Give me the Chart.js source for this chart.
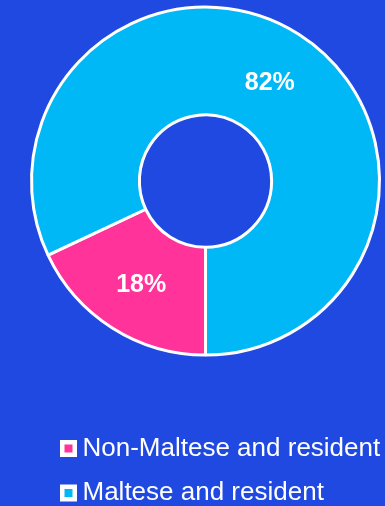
<!DOCTYPE html>
<html>
<head>
<meta charset="utf-8">
<script src="https://cdn.jsdelivr.net/npm/chart.js@4/dist/chart.umd.min.js"></script>
<style>
  html, body { margin: 0; padding: 0; background: #1f49e0; }
  #wrap { width: 385px; height: 506px; position: relative; }
</style>
</head>
<body>
<div id="wrap"><canvas id="c"></canvas></div>
<script>
const categories = ["Non-Maltese and resident", "Maltese and resident"];
const shares = [18, 82];
const sliceColors = ["#ff3399", "#00b8f5"];

const sliceLabels = {
  id: 'sliceLabels',
  afterDatasetsDraw(chart) {
    const ctx = chart.ctx;
    const meta = chart.getDatasetMeta(0);
    ctx.save();
    ctx.fillStyle = '#ffffff';
    ctx.font = 'bold 25px "Liberation Sans", Arial, sans-serif';
    ctx.textAlign = 'center';
    ctx.textBaseline = 'middle';
    meta.data.forEach((arc, i) => {
      const p = arc.tooltipPosition();
      ctx.fillText(shares[i] + '%', p.x, p.y + 3);
    });
    ctx.restore();
  }
};

const legendPlace = {
  id: 'legendPlace',
  afterLayout(chart) {
    const lg = chart.legend;
    if (!lg) return;
    const dx = 49 - lg.left;
    const dy = 417 - lg.top;
    lg.left += dx; lg.right += dx;
    lg.top += dy; lg.bottom += dy;
  }
};

new Chart(document.getElementById('c'), {
  type: 'doughnut',
  data: {
    labels: categories,
    datasets: [{
      data: shares,
      backgroundColor: sliceColors,
      borderColor: '#ffffff',
      borderWidth: 3,
      hoverOffset: 0
    }]
  },
  options: {
    responsive: true,
    maintainAspectRatio: false,
    animation: false,
    rotation: 180,
    cutout: '38%',
    layout: { padding: { left: 29.5, right: 3.5, top: 5.6, bottom: 50.4 } },
    plugins: {
      tooltip: { enabled: false },
      legend: {
        position: 'bottom',
        align: 'start',
        labels: {
          color: '#ffffff',
          font: { family: '"Liberation Sans", Arial, sans-serif', size: 26 },
          usePointStyle: true,
          pointStyle: 'rect',
          boxWidth: 2,
          boxHeight: 12.5,
          padding: 18.5,
          generateLabels(chart) {
            const items = Chart.overrides.doughnut.plugins.legend.labels.generateLabels(chart);
            items.forEach(it => {
              it.lineWidth = 4.5;
              it.strokeStyle = '#ffffff';
              it.pointStyle = 'rect';
              it.fontColor = '#ffffff';
            });
            return items;
          }
        }
      }
    }
  },
  plugins: [sliceLabels, legendPlace]
});
</script>
</body>
</html>
